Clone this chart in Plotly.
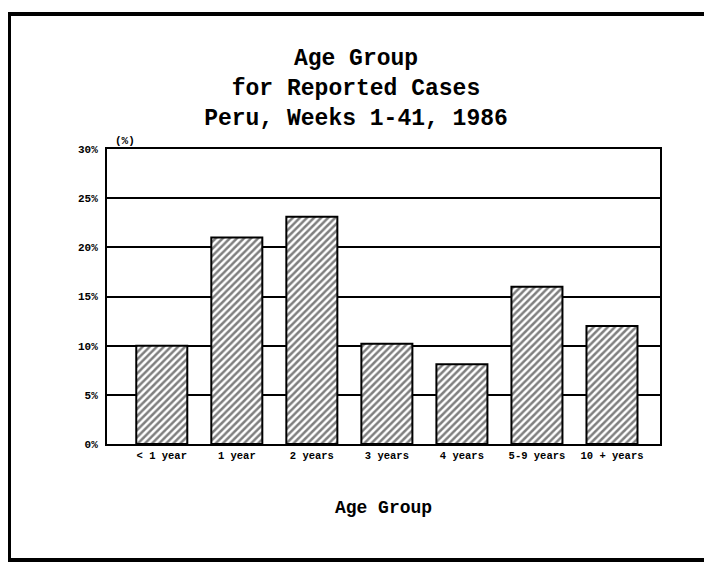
"""Age group of reported cases, Peru 1986 - hatched bar chart."""

import plotly.graph_objects as go

age_groups = ["< 1 year", "1 year", "2 years", "3 years", "4 years", "5-9 years", "10 + years"]
pct_cases = [10.0, 21.0, 23.1, 10.2, 8.1, 16.0, 12.0]
y_ticks = [0, 5, 10, 15, 20, 25, 30]
y_tick_labels = [f"{v}%" for v in y_ticks]

TITLE_FONT = "Courier New, Liberation Mono, monospace"
TICK_FONT = "Liberation Mono, DejaVu Sans Mono, monospace"

# page has an 8px body margin, so figure coords are page coords minus 8
W, H = 712, 568
L, R, T, B = 99, 60, 141, 132
PW, PH = W - L - R, H - T - B

fig = go.Figure(
    go.Bar(
        x=list(range(len(age_groups))),
        y=pct_cases,
        width=0.68,
        marker=dict(
            color="white",
            line=dict(color="black", width=2),
            pattern=dict(shape="/", fgcolor="black", bgcolor="white", size=5, solidity=0.5),
        ),
        hoverinfo="x+y",
    )
)

fig.update_layout(
    width=W,
    height=H,
    margin=dict(l=L, r=R, t=T, b=B),
    paper_bgcolor="white",
    plot_bgcolor="white",
    showlegend=False,
    title=dict(
        text="<b>Age Group<br>for Reported Cases<br>Peru, Weeks 1-41, 1986</b>",
        font=dict(family=TITLE_FONT, size=23, color="black"),
        x=(356 - 8) / W,
        xanchor="center",
        y=1 - 57 / H,
        yanchor="middle",
        yref="container",
    ),
    xaxis=dict(
        range=[-0.73, 6.64],
        tickvals=list(range(len(age_groups))),
        ticktext=[f"<b>{g}</b>" for g in age_groups],
        tickfont=dict(family=TICK_FONT, size=10.5, color="black"),
        ticks="",
        showgrid=False,
        zeroline=False,
        showline=True,
        linecolor="black",
        linewidth=2,
        mirror=True,
        title=dict(
            text="<b>Age Group</b>",
            font=dict(family=TITLE_FONT, size=18, color="black"),
            standoff=40,
        ),
    ),
    yaxis=dict(
        range=[0, 30],
        tickvals=y_ticks,
        ticktext=[f"<b>{t}</b>" for t in y_tick_labels],
        tickfont=dict(family=TICK_FONT, size=11, color="black"),
        ticks="",
        ticklabelstandoff=5,
        showgrid=True,
        gridcolor="black",
        gridwidth=1.5,
        zeroline=False,
        showline=True,
        linecolor="black",
        linewidth=2,
        mirror=True,
    ),
    annotations=[
        dict(
            text="<b>(%)</b>",
            xref="paper",
            yref="paper",
            x=0.0,
            y=1.0,
            xanchor="left",
            yanchor="bottom",
            xshift=6,
            showarrow=False,
            font=dict(family=TICK_FONT, size=11, color="black"),
        )
    ],
    shapes=[
        # outer page frame
        dict(
            type="rect",
            xref="paper",
            yref="paper",
            x0=(1 - L) / PW,
            x1=(701 - L) / PW,
            y0=-(552 - (H - B)) / PH,
            y1=1 + (T - 6) / PH,
            line=dict(color="black", width=4),
            layer="below",
        )
    ],
)

fig.write_html("out.html")
